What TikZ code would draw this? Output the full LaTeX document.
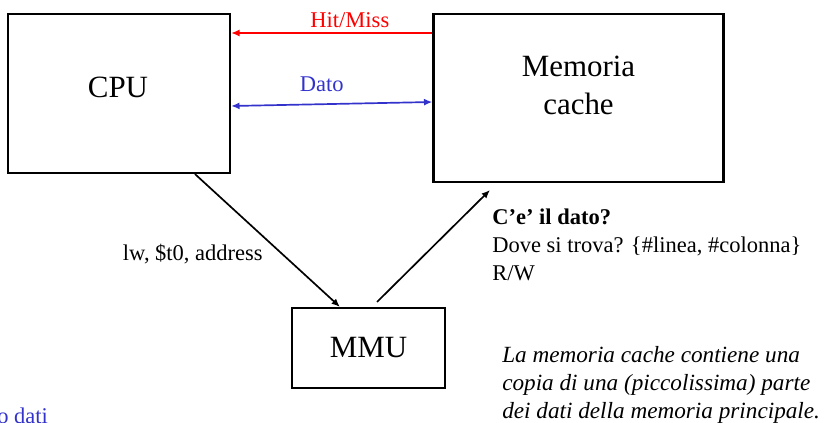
\documentclass[tikz,border=0pt]{standalone}
\usepackage{fontspec}
\setmainfont{Liberation Serif}
\usetikzlibrary{arrows.meta}
\definecolor{hitred}{RGB}{255,0,0}
\definecolor{datoblu}{RGB}{51,51,204}
\begin{document}
\begin{tikzpicture}[x=0.025cm,y=-0.025cm,
    blocco/.style={draw,line width=1.5pt,inner sep=0pt},
    grande/.style={font=\fontsize{22}{27}\selectfont,inner sep=0pt},
    testo/.style={font=\fontsize{16}{20}\selectfont,inner sep=0pt},
    freccia/.style={line width=1.2pt},
    >={Latex[length=6pt,width=5pt]}]
    \useasboundingbox (0,0) rectangle (829,422);
    \clip (0,0) rectangle (829,422);
    \node[blocco,minimum width=5.55cm,minimum height=3.975cm] (cpu) at (119,93.5) {};%blocco CPU
    \node[grande,anchor=base] (cputxt) at (118,97) {CPU};
    \node[blocco,minimum width=7.25cm,minimum height=4.2cm] (cache) at (578.5,98) {};%blocco cache
    \node[grande,anchor=north,align=center] (cachetxt) at (578.5,56) {Memoria\\cache};
    \node[blocco,minimum width=3.825cm,minimum height=2cm,font=\fontsize{22}{27}\selectfont] (mmu) at (368.5,348) {MMU};
    \draw[freccia,hitred,->] (cache.west |- 0,33) -- (cpu.east |- 0,33)
        node[testo,pos=0.41,above=3.5pt] (hitmiss) {Hit/Miss};%segnale hit/miss
    \draw[freccia,datoblu,<->] (cpu.east |- 0,106) -- (cache.west |- 0,102)
        node[testo,pos=0.45,above=8.5pt] (dato) {Dato};
    \draw[freccia,->] (195,0 |- cpu.south) -- (340,0 |- mmu.north);
    \draw[freccia,->,shorten <=5pt,shorten >=7pt] (372,0 |- mmu.north) -- (497,0 |- cache.south);
    \node[testo,anchor=base east] (lw) at (263,260) {lw, \$t0, address};
    \node[testo,anchor=north west,align=left] (info) at (492,208.5) {\textbf{C’e’ il dato?}\\Dove si trova? \{\#linea, \#colonna\}\\R/W};
    \node[testo,anchor=north west,align=left,font=\fontsize{16.5}{20}\selectfont\itshape] (nota) at (502,346)
        {La memoria cache contiene una\\copia di una (piccolissima) parte\\dei dati della memoria principale.};
    \node[testo,anchor=base west,text=datoblu] (odati) at (-3,423) {o dati};%testo tagliato in basso
\end{tikzpicture}
\end{document}
